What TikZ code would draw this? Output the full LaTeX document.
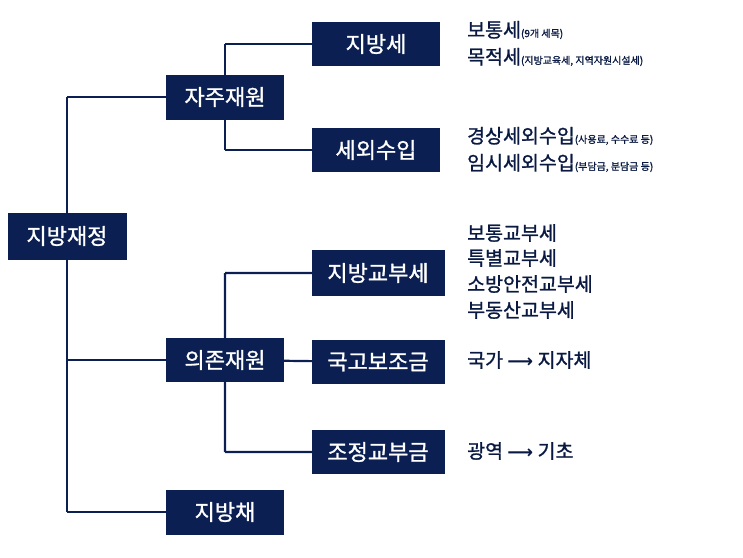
\documentclass[tikz,border=0pt]{standalone}
\usepackage{fontspec}
\setmainfont[AutoFakeBold=1.2]{Noto Sans CJK KR}
\definecolor{navy}{HTML}{0B1F52}
\newcommand\smf{\fontsize{10}{11}\selectfont}
\newcommand\arr{{\fontspec{DejaVu Sans}\fontsize{18}{20}\selectfont ⟶}}
\begin{document}
\begin{tikzpicture}[x=1pt,y=-1pt,
  bx/.style={fill=navy,text=white,font=\fontsize{22}{24}\selectfont\bfseries,inner sep=0,anchor=center},
  ln/.style={draw=navy,line width=2.2pt},
  lab/.style={anchor=west,text=navy!80!black,font=\fontsize{19.5}{22}\selectfont\bfseries,inner sep=0}]
\useasboundingbox (0,0) rectangle (743,557);
\coordinate (t1) at (67,97); \coordinate (t2) at (67,360); \coordinate (t3) at (67,512);
\coordinate (r) at (67,236); \coordinate (ja) at (225,97); \coordinate (ui) at (225,360);
\draw[ln] (t1) -- (t3);
\draw[ln] (t1) -- (ja); \draw[ln] (t2) -- (ui); \draw[ln] (t3) -- (225,512);
\draw[ln] (225,44) -- (225,150) (225,44) -- (376,44) (225,150) -- (376,150);
\draw[ln] (225,273) -- (225,452) (225,273) -- (378,273) (225,452) -- (378,452) (225,360) -- (378,362);
\node[bx,minimum width=119,minimum height=47] (root) at (r) {지방재정};
\node[bx,minimum width=118,minimum height=45] (jaju) at (ja) {자주재원};
\node[bx,minimum width=128,minimum height=44] (jbs) at (376,44) {지방세};
\node[bx,minimum width=128,minimum height=44] (swi) at (376,150) {세외수입};
\node[bx,minimum width=118,minimum height=44] (uijon) at (ui) {의존재원};
\node[bx,minimum width=133,minimum height=46] (gbs) at (378,273) {지방교부세};
\node[bx,minimum width=133,minimum height=44] (ggb) at (378,362) {국고보조금};
\node[bx,minimum width=133,minimum height=44] (jjg) at (378,452) {조정교부금};
\node[bx,minimum width=118,minimum height=45] (jbc) at (225,512) {지방채};
\node[lab] (l1) at (467,30) {보통세{\smf(9개 세목)}};
\node[lab] (l2) at (467,57) {목적세{\smf(지방교육세, 지역자원시설세)}};
\node[lab] (l3) at (467,136) {경상세외수입{\smf(사용료, 수수료 등)}};
\node[lab] (l4) at (467,163) {임시세외수입{\smf(부담금, 분담금 등)}};
\node[lab] (l5) at (467,233) {보통교부세};
\node[lab] (l6) at (467,258) {특별교부세};
\node[lab] (l7) at (467,284) {소방안전교부세};
\node[lab] (l8) at (467,310) {부동산교부세};
\node[lab] (l9) at (467,360) {국가 \arr{} 지자체};
\node[lab] (l10) at (467,451) {광역 \arr{} 기초};
\end{tikzpicture}
\end{document}
